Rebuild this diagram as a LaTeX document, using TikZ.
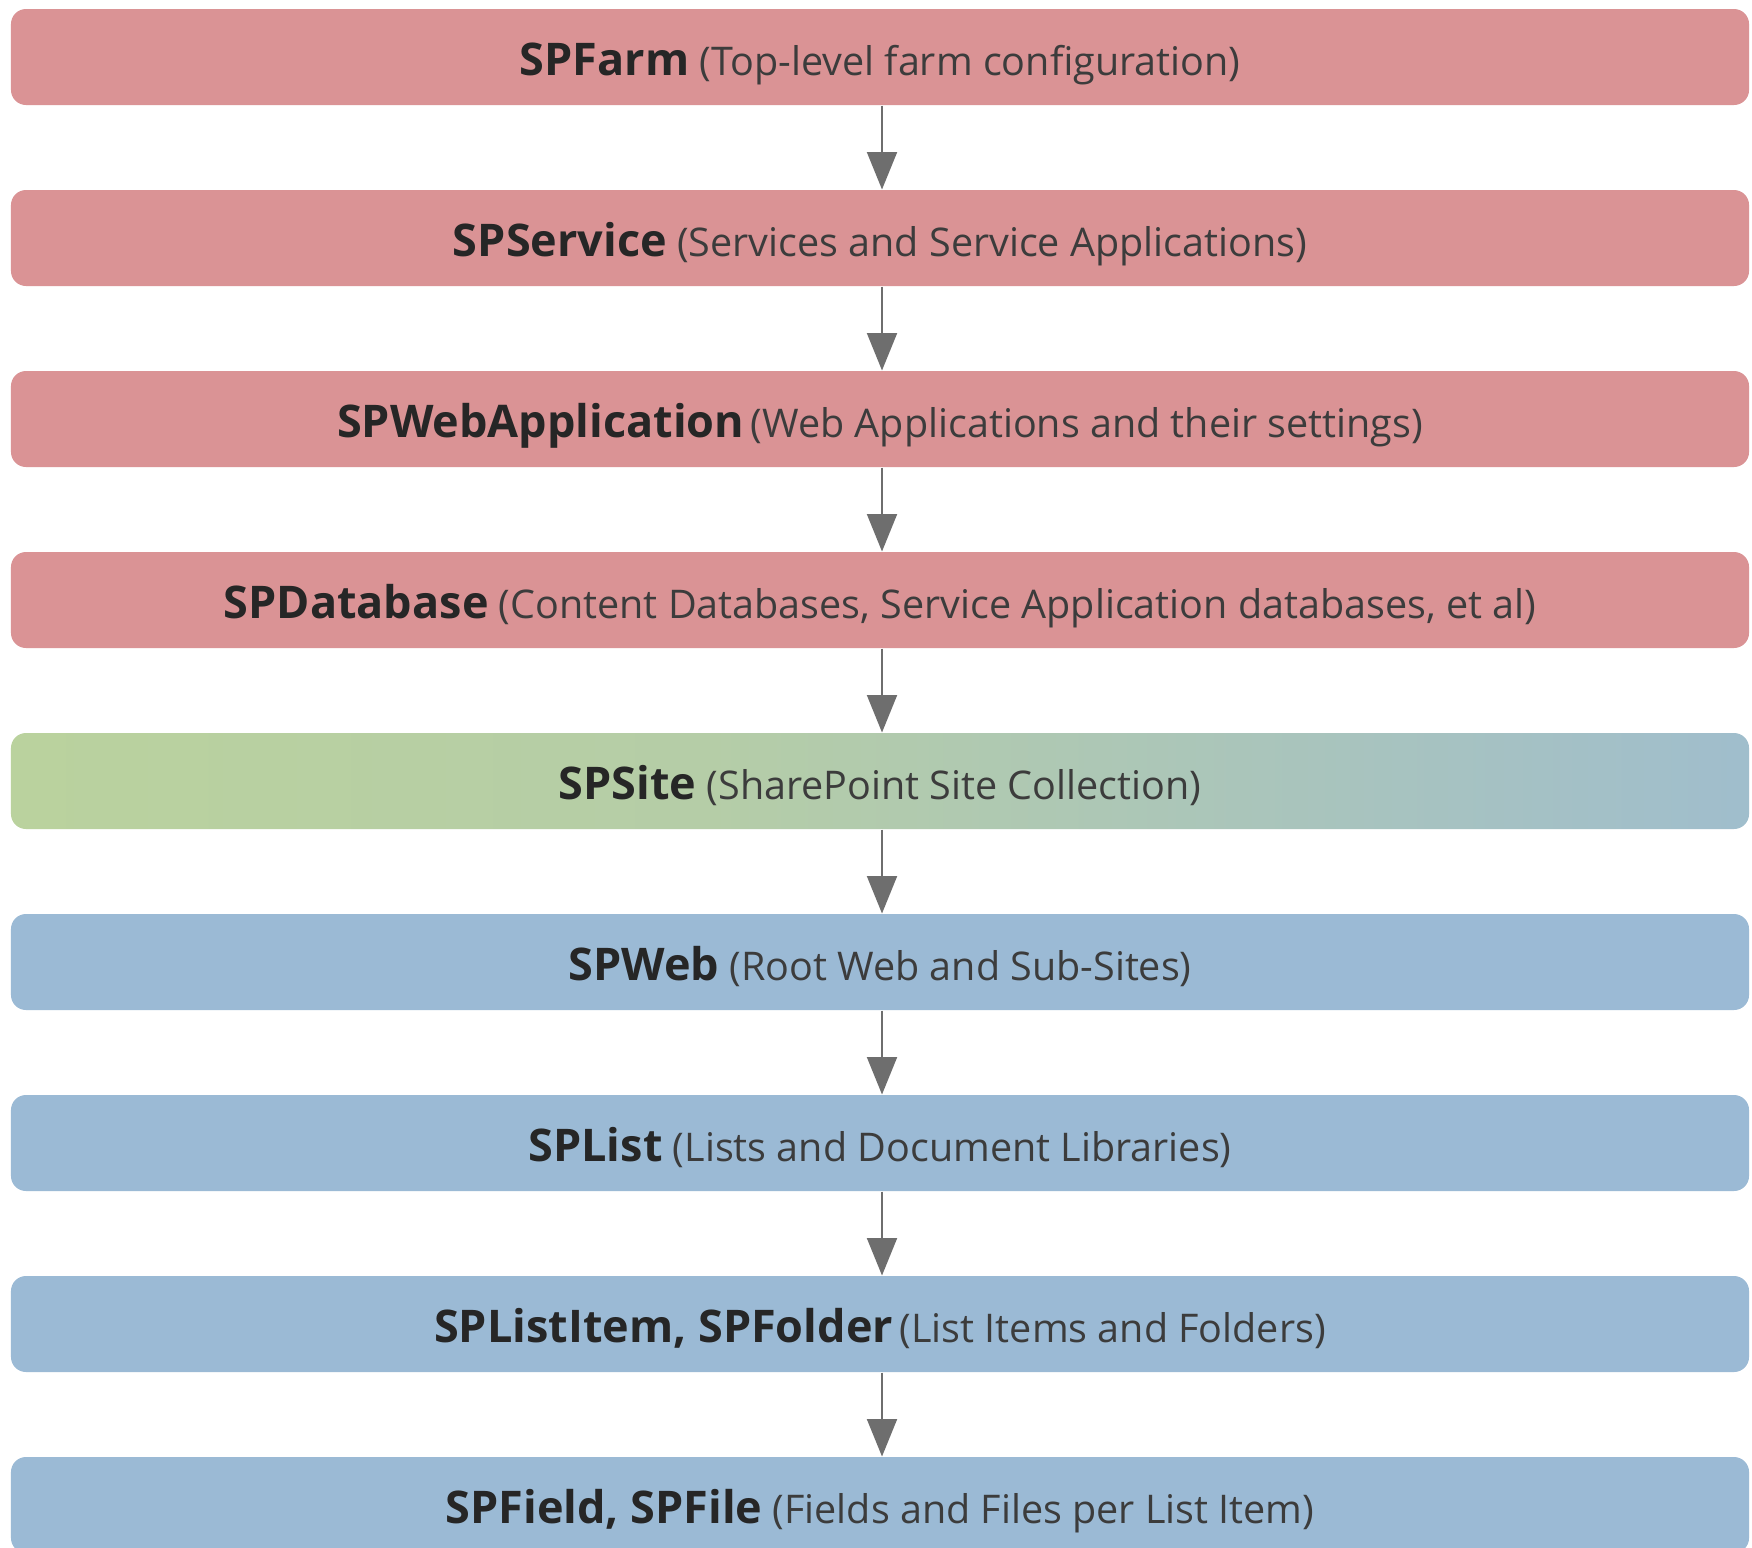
\documentclass[tikz,border=0pt]{standalone}
\usepackage{fontspec}
\setmainfont{Open Sans}
\usetikzlibrary{arrows.meta}
\definecolor{redbox}{HTML}{DA9395}
\definecolor{bluebox}{HTML}{9BBAD5}
\definecolor{greenL}{HTML}{C0D892}
\definecolor{greenM}{HTML}{B5CDA7}
\definecolor{arrowgray}{HTML}{6E6E6E}
\definecolor{boldtext}{HTML}{262626}
\definecolor{normtext}{HTML}{3C3C3C}
\pgfdeclarehorizontalshading{sitegrad}{100bp}{color(0bp)=(greenL); color(45bp)=(greenM); color(82bp)=(bluebox); color(100bp)=(bluebox)}
\newcommand\kw[1]{{\fontsize{18}{21}\selectfont\bfseries\color{boldtext}#1}}
\begin{document}
\begin{tikzpicture}[x=0.4pt,y=-0.4pt,
  layer/.style={rounded corners=6pt, minimum width=695.2pt, minimum height=38.4pt, inner sep=0pt, text height=15pt, text depth=0pt, text=normtext, font=\fontsize{15.8}{19}\selectfont},
  redlayer/.style={layer, fill=redbox},
  bluelayer/.style={layer, fill=bluebox},
  sitelayer/.style={layer, shading=sitegrad},
  flow/.style={draw=arrowgray, line width=0.8pt, -{Triangle[width=12pt,length=15pt]}}
]
\path[fill=white,use as bounding box] (0,0) rectangle (1752,1547);

\node[redlayer] (farm) at (880,57) {\kw{SPFarm} (Top-level farm configuration)};
\node[redlayer] (service) at (880,238) {\kw{SPService} (Services and Service Applications)};
\node[redlayer] (webapp) at (880,419) {\kw{SPWebApplication}\,(Web Applications and their settings)};
\node[redlayer] (db) at (880,600) {\kw{SPDatabase} (Content Databases, Service Application databases, et al)};
\node[sitelayer] (site) at (880,781) {\kw{SPSite} (SharePoint Site Collection)};
\node[bluelayer] (web) at (880,962) {\kw{SPWeb} (Root Web and Sub-Sites)};
\node[bluelayer] (list) at (880,1143) {\kw{SPList} (Lists and Document Libraries)};
\node[bluelayer] (item) at (880,1324) {\kw{SPListItem, SPFolder}\,(List Items and Folders)};
\node[bluelayer] (field) at (880,1505) {\kw{SPField, SPFile} (Fields and Files per List Item)};

\draw[flow] ([xshift=0.8pt]farm.south) -- ([xshift=0.8pt]service.north);
\draw[flow] ([xshift=0.8pt]service.south) -- ([xshift=0.8pt]webapp.north);
\draw[flow] ([xshift=0.8pt]webapp.south) -- ([xshift=0.8pt]db.north);
\draw[flow] ([xshift=0.8pt]db.south) -- ([xshift=0.8pt]site.north);
\draw[flow] ([xshift=0.8pt]site.south) -- ([xshift=0.8pt]web.north);
\draw[flow] ([xshift=0.8pt]web.south) -- ([xshift=0.8pt]list.north);
\draw[flow] ([xshift=0.8pt]list.south) -- ([xshift=0.8pt]item.north);
\draw[flow] ([xshift=0.8pt]item.south) -- ([xshift=0.8pt]field.north);
\end{tikzpicture}
\end{document}
